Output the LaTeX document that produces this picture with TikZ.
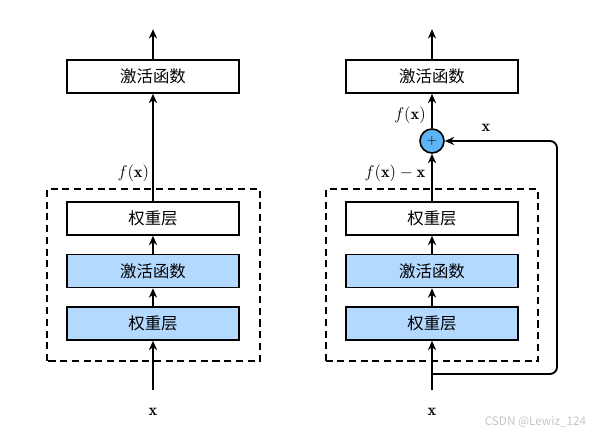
\documentclass[tikz,border=0pt]{standalone}
\usepackage{amsmath,amssymb}
\usepackage{fontspec}
\newfontfamily\cjk{Noto Sans CJK SC}
\usetikzlibrary{arrows.meta}
\definecolor{layerblue}{RGB}{179,217,255}
\definecolor{addblue}{RGB}{94,180,245}
\tikzset{
  layer/.style={draw, line width=1.4pt, minimum width=5.16cm, minimum height=0.99cm,
    inner sep=0pt, font=\cjk\fontsize{14}{16}\selectfont},
  bluelayer/.style={layer, fill=layerblue},
  addnode/.style={draw, circle, line width=1.4pt, fill=addblue, minimum size=0.72cm, inner sep=0pt,
    font=\fontsize{13}{14}\selectfont},
  lbl/.style={font=\fontsize{14}{16}\selectfont},
  dashbox/.style={line width=1.4pt, dash pattern=on 6pt off 4pt}
}
\begin{document}
\begin{tikzpicture}[node distance=1.575cm, auto, line width=1.6pt, >={Stealth[length=8pt,width=7pt]}]
	\useasboundingbox (0,0) rectangle (17.82,13.05);
	% plain block
	\node[bluelayer] (wl1) at (4.59,3.345) {权重层};
	\node[bluelayer] (act1) [above of=wl1] {激活函数};
	\node[layer] (wl2) [above of=act1] {权重层};
	\node[layer] (out1) [node distance=4.26cm, above of=wl2] {激活函数};
	\coordinate (in1) at (4.59,1.35);
	\node[lbl] (x1) at (4.59,0.69) {$\mathbf{x}$};
	\node[lbl] (fx1) at (4.0,7.86) {$f(\mathbf{x})$};
	\draw[->] (in1) to (wl1);
	\draw[->] (wl1) to (act1);
	\draw[->] (act1) to (wl2);
	\draw[->] (wl2) to (out1);
	\draw[->] (out1.north) -- ++(0,0.9);
	\draw[dashbox] (1.41,2.22) rectangle (7.8,7.38);
	% residual block
	\node[bluelayer] (wl3) at (12.96,3.345) {权重层};
	\node[bluelayer] (act3) [above of=wl3] {激活函数};
	\node[layer] (wl4) [above of=act3] {权重层};
	\node[addnode] (plus) [node distance=2.325cm, above of=wl4] {$+$};
	\node[layer] (out3) [node distance=1.935cm, above of=plus] {激活函数};
	\coordinate (in3) at (12.96,1.35);
	\coordinate (split) at (12.96,1.83);
	\node[lbl] (x3) at (12.96,0.69) {$\mathbf{x}$};
	\node[lbl] (fxx) at (11.85,7.86) {$f(\mathbf{x})-\mathbf{x}$};
	\node[lbl] (fx3) at (12.3,9.6) {$f(\mathbf{x})$};
	\node[lbl] (xs) at (14.58,9.21) {$\mathbf{x}$};
	\draw[->] (in3) to (wl3);
	\draw[->] (wl3) to (act3);
	\draw[->] (act3) to (wl4);
	\draw[->] (wl4) to (plus);
	\draw[->] (plus) to (out3);
	\draw[->] (out3.north) -- ++(0,0.9);
	\draw[->, rounded corners=6pt] (split) -- ++(3.75,0) |- (plus);
	\draw[dashbox] (9.78,2.22) rectangle (16.14,7.38);
	\node[anchor=east, text=gray!45, font=\cjk\fontsize{10}{11}\selectfont] (mark) at (17.73,0.39) {CSDN @Lewiz\_124};
\end{tikzpicture}
\end{document}
